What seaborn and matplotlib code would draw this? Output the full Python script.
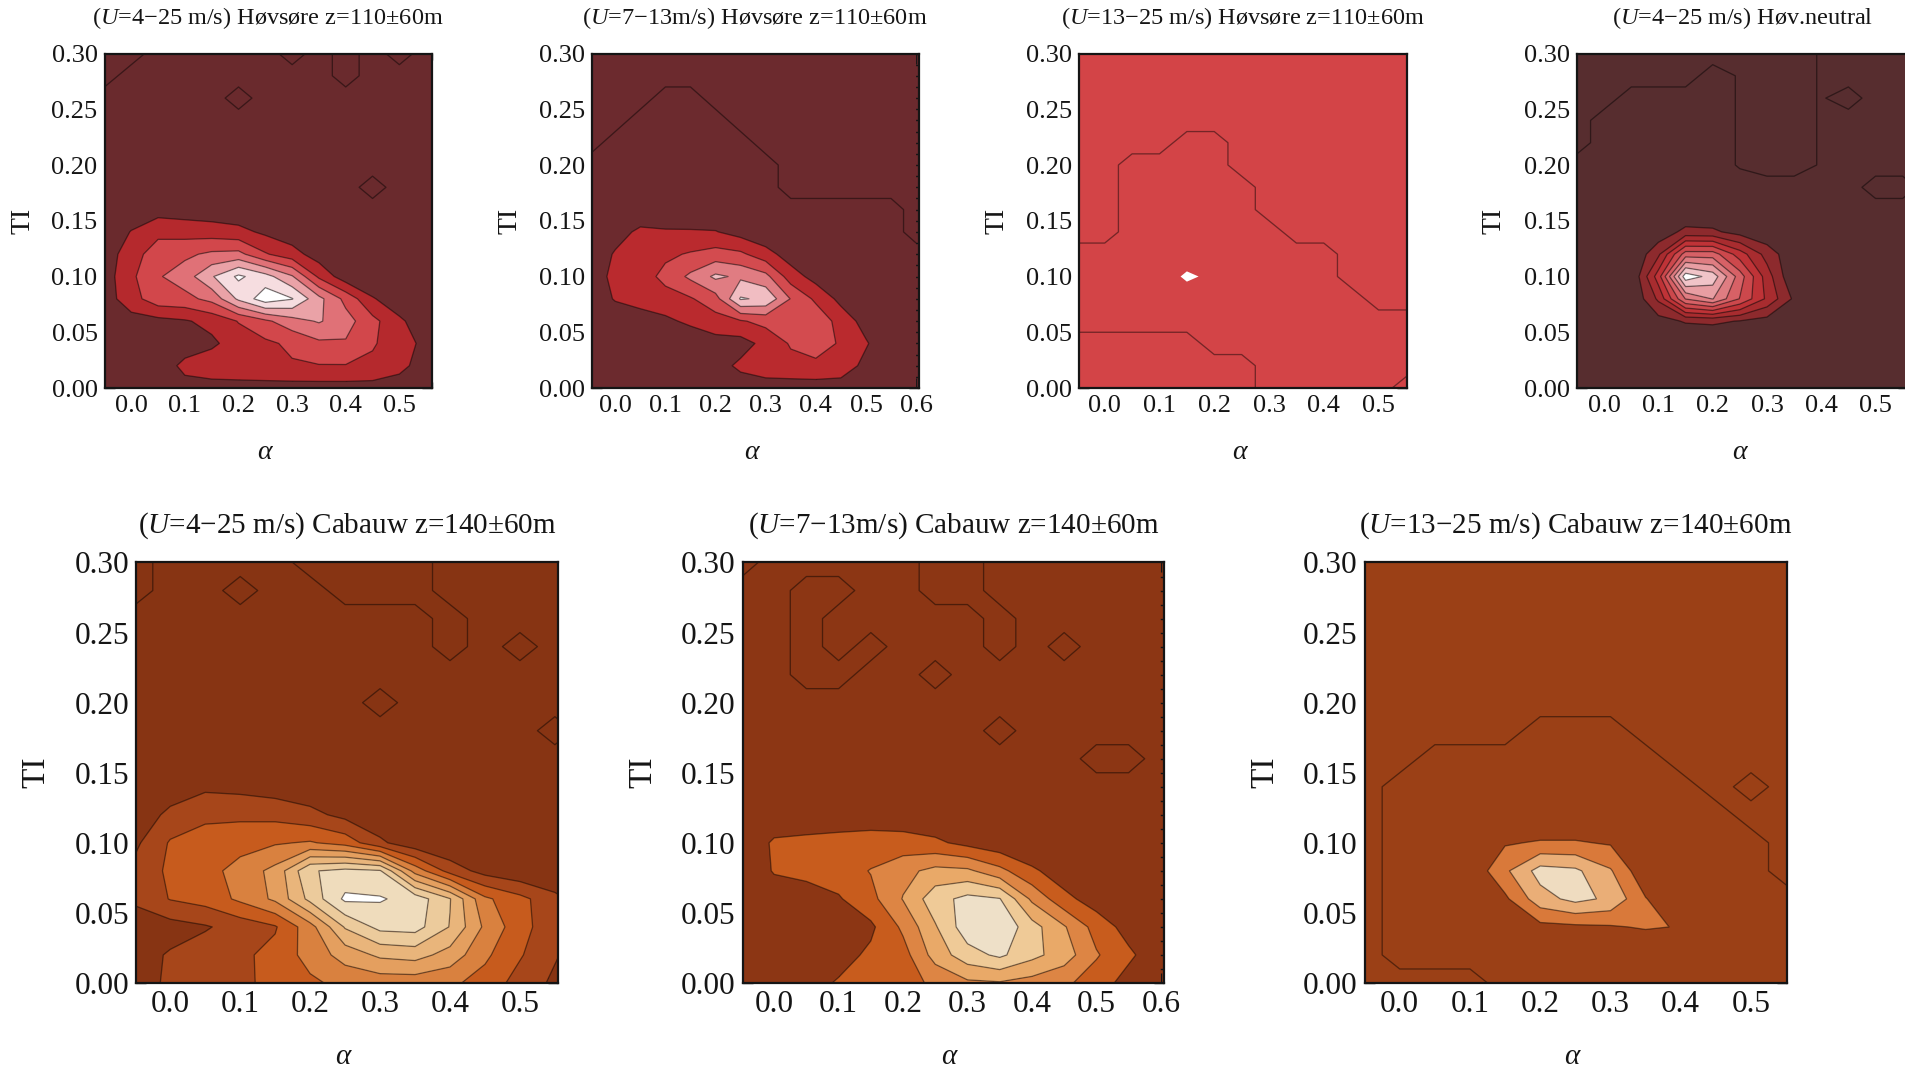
import numpy as np
import matplotlib
matplotlib.use("Agg")
import matplotlib.pyplot as plt
from matplotlib.ticker import MultipleLocator, FormatStrFormatter
import seaborn as sns

sns.set_theme(style="ticks")
plt.rcParams["font.family"] = ["Liberation Serif", "DejaVu Serif"]
plt.rcParams["mathtext.fontset"] = "custom"
plt.rcParams["mathtext.rm"] = "Liberation Serif"
plt.rcParams["mathtext.it"] = "Liberation Serif:italic"
plt.rcParams["contour.negative_linestyle"] = "solid"

# grid nodes (shear exponent alpha along x, turbulence intensity along y)
alpha_nodes = [-0.05, 0.00, 0.05, 0.10, 0.15, 0.20, 0.25, 0.30, 0.35, 0.40, 0.45, 0.50, 0.55, 0.60]
ti_nodes = [0.00, 0.02, 0.04, 0.06, 0.08, 0.10, 0.12, 0.14, 0.16, 0.18, 0.20, 0.22, 0.24, 0.26, 0.28, 0.30]

# frequency grids, rows listed from TI = 0.30 (top) down to TI = 0.00 (bottom)
hov_all = [
    [-1, -1, 0, 0, 0, 0, 0, -1, 0, -1, 0, -1, 0, 0],
    [-1, 0, 0, 0, 0, 0, 0, 0, 0, -1, 0, 0, 0, 0],
    [0, 0, 0, 0, 0, -1, 0, 0, 0, 0, 0, 0, 0, 0],
    [0, 0, 0, 0, 0, 0, 0, 0, 0, 0, 0, 0, 0, 0],
    [0, 0, 0, 0, 0, 0, 0, 0, 0, 0, 0, 0, 0, 0],
    [0, 0, 0, 0, 0, 0, 0, 0, 0, 0, 0, 0, 0, 0],
    [0, 0, 0, 0, 0, 0, 0, 0, 0, 0, -1, 0, 0, 0],
    [0, 0.3, 0.6, 0.5, 0.4, 0.3, 0.1, 0, 0, 0, 0, 0, 0, 0],
    [0.2, 1.05, 1.7, 1.6, 1.5, 1.3, 0.8, 0.4, 0.1, 0, 0, 0, 0, 0],
    [0.5, 1.5, 2.6, 2.8, 3.2, 3.3, 2.1, 1.4, 0.5, 0, 0, 0, 0, 0],
    [0.5, 1.8, 2.9, 3.5, 4.9, 6.2, 5.4, 4.1, 1.8, 0.4, 0, 0, 0, 0],
    [0.5, 1.6, 2.6, 2.7, 3.3, 5.2, 6.6, 6.05, 4.3, 2.7, 1.1, 0.3, 0, 0],
    [0.4, 0.6, 0.7, 0.9, 1.3, 2.05, 2.8, 3.6, 4.1, 3.4, 2.3, 1.2, 0.3, 0],
    [0, 0, 0.1, 0.4, 0.8, 1.5, 1.8, 2.2, 2.8, 2.9, 2.1, 1.5, 0.7, 0],
    [0, 0, 0.3, 1.3, 1.6, 1.7, 1.8, 1.9, 1.95, 1.95, 1.8, 1.3, 0.5, 0],
    [0, 0, 0, 0.6, 0.6, 0.6, 0.6, 0.6, 0.6, 0.6, 0.6, 0.5, 0.2, 0],
]

hov_mid = [
    [-1, -1, -1, -1, -1, -1, -1, -1, -1, -1, -1, -1, -1, -1],
    [-1, -1, -1, -1, -1, -1, -1, -1, -1, -1, -1, -1, -1, -1],
    [-1, -1, -1, 0, 0, -1, -1, -1, -1, -1, -1, -1, -1, -1],
    [-1, -1, 0, 0, 0, 0, -1, -1, -1, -1, -1, -1, -1, -1],
    [-1, 0, 0, 0, 0, 0, 0, -1, -1, -1, -1, -1, -1, -1],
    [0, 0, 0, 0, 0, 0, 0, 0, -1, -1, -1, -1, -1, -1],
    [0, 0, 0, 0, 0, 0, 0, 0, -1, -1, -1, -1, -1, -1],
    [0, 0.1, 0.3, 0.3, 0.2, 0.2, 0, 0, 0, 0, 0, 0, 0, -1],
    [0, 0.6, 1.2, 1.1, 1.1, 1.05, 0.6, 0.2, 0, 0, 0, 0, 0, -1],
    [0.3, 1.1, 1.6, 1.8, 2.1, 2.4, 2.2, 1.4, 0.5, 0, 0, 0, 0, 0],
    [0.4, 1.3, 1.5, 2.3, 3.2, 4.2, 3.8, 3.3, 1.5, 0.6, 0, 0, 0, 0],
    [0.2, 1.1, 1.4, 1.6, 1.9, 2.6, 5.1, 4.8, 2.95, 1.8, 0.7, 0, 0, 0],
    [0, 0.2, 0.5, 0.8, 1.2, 1.6, 1.9, 2.3, 2.8, 2.7, 1.6, 0.6, 0, 0],
    [0, 0, 0, 0.1, 0.3, 0.6, 0.6, 1.3, 2.1, 2.4, 1.9, 1.1, 0.2, 0],
    [0, 0, 0, 0, 0.2, 0.6, 1.2, 1.6, 1.7, 1.8, 1.6, 0.7, 0, 0],
    [0, 0, 0, 0, 0, 0.3, 0.5, 0.5, 0.5, 0.5, 0.5, 0.2, 0, 0],
]

hov_high = [
    [0, 0, 0, 0, 0, 0, 0, 0, 0, 0, 0, 0, 0, 0],
    [0, 0, 0, 0, 0, 0, 0, 0, 0, 0, 0, 0, 0, 0],
    [0, 0, 0, 0, 0, 0, 0, 0, 0, 0, 0, 0, 0, 0],
    [0, 0, 0, 0, 0, 0, 0, 0, 0, 0, 0, 0, 0, 0],
    [0, 0, 0, 0, 1, 1, 0, 0, 0, 0, 0, 0, 0, 0],
    [0, 0, 1, 1, 1, 1, 0, 0, 0, 0, 0, 0, 0, 0],
    [0, 0, 1, 1, 1, 1, 1, 0, 0, 0, 0, 0, 0, 0],
    [0, 0, 1, 1, 1, 1, 1, 0, 0, 0, 0, 0, 0, 0],
    [0, 0, 1, 1, 1, 1, 1, 1, 0, 0, 0, 0, 0, 0],
    [1, 1, 1, 1, 1, 1, 1, 1, 1, 1, 0, 0, 0, 0],
    [1, 1, 1, 1, 2.3, 1.6, 1, 1, 1, 1, 0, 0, 0, 0],
    [1, 1, 1, 1, 1, 1, 1, 1, 1, 1, 1, 0, 0, 0],
    [1, 1, 1, 1, 1, 1, 1, 1, 1, 1, 1, 1, 1, 1],
    [0, 0, 0, 0, 0, 1, 1, 1, 1, 1, 1, 1, 1, 1],
    [0, 0, 0, 0, 0, 0, 0, 1, 1, 1, 1, 1, 1, 1],
    [0, 0, 0, 0, 0, 0, 0, 1, 1, 1, 1, 1, 0, 0],
]

hov_neutral = [
    [-1, -1, -1, -1, -1, -1, -0.6, -1, -1, -0.4, 0, 0, 0, 0],
    [-1, -1, -1, -1, -1, 0, -0.6, -1, -1, -0.4, 0, 0, 0, 0],
    [-1, -1, 0, 0, 0, 0, -0.6, -1, -1, -0.4, -1, 0, 0, 0],
    [-1, 0, 0, 0, 0, 0, -0.6, -1, -1, -0.4, 0, 0, 0, 0],
    [-1, 0, 0, 0, 0, 0, -0.6, -1, -1, -0.4, 0, 0, 0, 0],
    [0, 0, 0, 0, 0, 0, -0.6, -1, -1, -0.4, 0, 0, 0, 0],
    [0, 0, 0, 0, 0, 0, 0, 0, 0, 0, 0, -1, -1, 0],
    [0, 0, 0, 0, 0, 0, 0, 0, 0, 0, 0, 0, 0, 0],
    [0, 0, 0, 0.3, 1.3, 1.2, 0.6, 0.2, 0, 0, 0, 0, 0, 0],
    [0, 0, 0, 1.8, 5.5, 5.5, 3.5, 1.6, 0.2, 0, 0, 0, 0, 0],
    [0, 0, 0, 3.5, 9.6, 8.6, 5.5, 2.5, 0, 0, 0, 0, 0, 0],
    [0, 0, 0, 2.2, 6.05, 7.05, 4.95, 2.8, 0.8, 0, 0, 0, 0, 0],
    [0, 0, 0, 0.6, 1.1, 1.2, 0.95, 0.6, 0, 0, 0, 0, 0, 0],
    [0, 0, 0, 0, 0, 0, 0, 0, 0, 0, 0, 0, 0, 0],
    [0, 0, 0, 0, 0, 0, 0, 0, 0, 0, 0, 0, 0, 0],
    [0, 0, 0, 0, 0, 0, 0, 0, 0, 0, 0, 0, 0, 0],
]

cab_all = [
    [-1, 0, 0, 0, 0, -1, -1, -1, -1, 0, 0, 0, 0, 0],
    [-1, 0, 0, -1, 0, 0, -1, -1, -1, 0, 0, 0, 0, 0],
    [0, 0, 0, 0, 0, 0, 0, 0, 0, -1, 0, 0, 0, 0],
    [0, 0, 0, 0, 0, 0, 0, 0, 0, -1, 0, -1, 0, 0],
    [0, 0, 0, 0, 0, 0, 0, 0, 0, 0, 0, 0, 0, 0],
    [0, 0, 0, 0, 0, 0, 0, -1, 0, 0, 0, 0, 0, 0],
    [0, 0, 0, 0, 0, 0, 0, 0, 0, 0, 0, 0, -1, 0],
    [0, 0, 0, 0, 0, 0, 0, 0, 0, 0, 0, 0, 0, 0],
    [0, 0.3, 0.8, 0.7, 0.5, 0.3, 0.1, 0, 0, 0, 0, 0, 0, 0],
    [0.2, 1.3, 1.8, 1.8, 1.7, 1.3, 0.7, 0.2, 0, 0, 0, 0, 0, 0],
    [0.8, 2.1, 2.4, 2.6, 2.9, 3.1, 2.6, 1.2, 0.3, 0, 0, 0, 0, 0],
    [1.3, 2.2, 2.6, 3.4, 4.3, 6.9, 7.3, 7.1, 3.6, 1.6, 0.6, 0.2, 0, 0],
    [1.2, 2.05, 2.4, 3.2, 4.2, 6.3, 8.2, 8.1, 7.6, 6.05, 3.2, 2.3, 1.3, 0.3],
    [0.4, 0.6, 0.9, 1.4, 1.9, 3.6, 6.1, 7.3, 7.4, 5.95, 3.8, 2.4, 1.3, 0.4],
    [0.6, 1.1, 1.5, 1.8, 2.3, 3.4, 4.4, 5.2, 5.4, 4.6, 3.2, 2.1, 1.1, 0.3],
    [0.5, 1.2, 1.5, 1.7, 2.4, 2.8, 3.3, 3.4, 3.4, 3.2, 2.6, 1.6, 0.8, 0],
]

cab_mid = [
    [-1, 0, 0, 0, 0, 0, -1, -1, 0, 0, 0, 0, 0, 0],
    [0, 0, -1, -1, 0, 0, -1, -1, 0, 0, 0, 0, 0, 0],
    [0, 0, -1, 0, 0, 0, 0, 0, -1, 0, 0, 0, 0, 0],
    [0, 0, -1, 0, -1, 0, 0, 0, -1, 0, -1, 0, 0, 0],
    [0, 0, -1, -1, 0, 0, -1, 0, 0, 0, 0, 0, 0, 0],
    [0, 0, 0, 0, 0, 0, 0, 0, 0, 0, 0, 0, 0, 0],
    [0, 0, 0, 0, 0, 0, 0, 0, -1, 0, 0, 0, 0, 0],
    [0, 0, 0, 0, 0, 0, 0, 0, 0, 0, 0, -1, -1, 0],
    [0, 0, 0, 0, 0, 0, 0, 0, 0, 0, 0, 0, 0, 0],
    [0, 0.3, 0.5, 0.5, 0.5, 0.4, 0.2, 0, 0, 0, 0, 0, 0, 0],
    [0.2, 1.15, 1.2, 1.3, 1.4, 1.4, 1.2, 0.7, 0.3, 0, 0, 0, 0, 0],
    [0, 1.1, 1.3, 1.5, 2.05, 2.7, 3.3, 3.2, 2.3, 1.2, 0.4, 0, 0, 0],
    [0.1, 0.3, 0.5, 0.9, 1.7, 3.05, 4.6, 5.3, 5.05, 2.8, 1.3, 0.5, 0, 0],
    [0, 0.1, 0.3, 0.5, 0.8, 2.2, 3.9, 5.6, 5.8, 4.4, 3.1, 1.6, 0.6, 0],
    [0, 0, 0.3, 0.6, 1.2, 1.6, 3.4, 4.6, 5.2, 4.3, 3.5, 2.1, 1.2, 0.3],
    [0, 0, 0.6, 1.1, 1.4, 1.6, 2.2, 2.8, 2.9, 2.6, 2.2, 1.5, 0.6, 0],
]

cab_high = [
    [0, 0, 0, 0, 0, 0, 0, 0, 0, 0, 0, 0, 0, 0],
    [0, 0, 0, 0, 0, 0, 0, 0, 0, 0, 0, 0, 0, 0],
    [0, 0, 0, 0, 0, 0, 0, 0, 0, 0, 0, 0, 0, 0],
    [0, 0, 0, 0, 0, 0, 0, 0, 0, 0, 0, 0, 0, 0],
    [0, 0, 0, 0, 0, 0, 0, 0, 0, 0, 0, 0, 0, 0],
    [0, 0, 0, 0, 0, 0, 0, 0, 0, 0, 0, 0, 0, 0],
    [0, 0, 0, 0, 0, 1, 1, 1, 0, 0, 0, 0, 0, 0],
    [0, 0, 1, 1, 1, 1, 1, 1, 1, 0, 0, 0, 0, 0],
    [0, 1, 1, 1, 1, 1, 1, 1, 1, 1, 0, 1, 0, 0],
    [0, 1, 1, 1, 1, 1, 1, 1, 1, 1, 1, 0, 0, 0],
    [0, 1, 1, 1, 1.9, 2.1, 2.1, 1.9, 1, 1, 1, 1, 0, 0],
    [0, 1, 1, 1.2, 2.8, 4.4, 4.2, 3.1, 1.2, 1, 1, 1, 0, 0],
    [0, 1, 1, 1, 1.8, 3.6, 4.3, 3.8, 2.05, 1, 1, 1, 1, 1],
    [0, 1, 1, 1, 1.4, 1.7, 1.8, 1.9, 2.1, 1.95, 1.3, 1, 1, 1],
    [0, 1, 1, 1, 1, 1, 1, 1, 1, 1, 1, 1, 1, 1],
    [0, 0, 0, 0, 1, 1, 1, 1, 1, 1, 1, 1, 1, 1],
]

titles = [
    "($U$=4\u221225 m/s) H\u00f8vs\u00f8re z=110\u00b160m",
    "($U$=7\u221213m/s) H\u00f8vs\u00f8re z=110\u00b160m",
    "($U$=13\u221225 m/s) H\u00f8vs\u00f8re z=110\u00b160m",
    "($U$=4\u221225 m/s) H\u00f8v.neutral",
    "($U$=4\u221225 m/s) Cabauw z=140\u00b160m",
    "($U$=7\u221213m/s) Cabauw z=140\u00b160m",
    "($U$=13\u221225 m/s) Cabauw z=140\u00b160m",
]

xticks_05 = [0.0, 0.1, 0.2, 0.3, 0.4, 0.5]
xticks_06 = [0.0, 0.1, 0.2, 0.3, 0.4, 0.5, 0.6]
yticks = [0.00, 0.05, 0.10, 0.15, 0.20, 0.25, 0.30]

top = dict(tick=19, title=17.5, ti=20, al=20, ty=1.106, lx=-0.25, ay=-0.192)
bot = dict(tick=22.5, title=21, ti=24, al=21, ty=1.087, lx=-0.236, ay=-0.176)

panels = [
    dict(z=hov_all, rect=[0.05486, 0.63873, 0.17165, 0.31145], xlim=(-0.05, 0.56), xt=xticks_05, st=top,
         levels=[1, 2, 3, 4, 5, 6], lines=[-0.5, 1, 2, 3, 4, 5, 6],
         colors=["#6a2a2d", "#b5292d", "#d2474b", "#e07177", "#eaa2a7", "#f6dde0", "#ffffff"]),
    dict(z=hov_mid, rect=[0.31060, 0.63873, 0.17160, 0.31145], xlim=(-0.047, 0.605), xt=xticks_06, st=top,
         levels=[1, 2, 3, 4, 5], lines=[-0.5, 1, 2, 3, 4, 5],
         colors=["#6c2a2e", "#ba2a2e", "#d34b4f", "#e07c82", "#f1bdc2", "#ffffff"]),
    dict(z=hov_high, rect=[0.56640, 0.63873, 0.17218, 0.31145], xlim=(-0.047, 0.552), xt=xticks_05, st=top,
         levels=[2], lines=[0.5],
         colors=["#d34447", "#ffffff"]),
    dict(z=hov_neutral, rect=[0.82782, 0.63873, 0.17380, 0.31145], xlim=(-0.05, 0.56), xt=xticks_05, st=top,
         levels=[1, 2, 3, 4, 5, 6, 7, 8, 9], lines=[-0.5, 1, 2, 3, 4, 5, 6, 7, 8, 9],
         colors=["#572d2f", "#8d2a2d", "#a82c2f", "#bf3337", "#cc484c", "#d76166", "#df7d82", "#e89ea3",
                 "#f1c4c8", "#ffffff"]),
    dict(z=cab_all, rect=[0.07139, 0.08473, 0.22136, 0.39153], xlim=(-0.049, 0.554), xt=xticks_05, st=bot,
         levels=[1, 2, 3, 4, 5, 6, 7, 8], lines=[-0.5, 1, 2, 3, 4, 5, 6, 7, 8],
         colors=["#873413", "#a7461a", "#c75b1d", "#d9813f", "#e49f5f", "#e9b57b", "#eccb9c", "#efdcbc",
                 "#ffffff"]),
    dict(z=cab_mid, rect=[0.38982, 0.08473, 0.22121, 0.39153], xlim=(-0.049, 0.605), xt=xticks_06, st=bot,
         levels=[1, 2, 3, 4, 5], lines=[-0.5, 1, 2, 3, 4, 5],
         colors=["#8c3614", "#c85c1d", "#dd8544", "#e9a968", "#efca97", "#eee0c8"]),
    dict(z=cab_high, rect=[0.71633, 0.08473, 0.22199, 0.39153], xlim=(-0.05, 0.552), xt=xticks_05, st=bot,
         levels=[2, 3, 4], lines=[0.5, 2, 3, 4],
         colors=["#9b4016", "#d9793a", "#eaae77", "#efdcc0"]),
]

fig = plt.figure(figsize=(19.05, 10.74), dpi=100)
X, Y = np.meshgrid(alpha_nodes, ti_nodes)

for title, p in zip(titles, panels):
    st = p["st"]
    ax = fig.add_axes(p["rect"])
    ax.set_facecolor(p["colors"][0])
    Z = np.array(p["z"], dtype=float)[::-1]
    ax.contourf(X, Y, Z, levels=[-50] + p["levels"] + [50], colors=p["colors"], antialiased=True)
    ax.contour(X, Y, Z, levels=p["lines"], colors="black", linewidths=0.95, alpha=0.45,
               linestyles="solid")

    ax.set_xlim(*p["xlim"])
    ax.set_ylim(0, 0.30)
    ax.set_xticks(p["xt"])
    ax.set_yticks(yticks)
    ax.xaxis.set_minor_locator(MultipleLocator(0.02))
    ax.yaxis.set_minor_locator(MultipleLocator(0.01))
    ax.xaxis.set_major_formatter(FormatStrFormatter("%.1f"))
    ax.yaxis.set_major_formatter(FormatStrFormatter("%.2f"))
    ax.tick_params(which="both", direction="in", top=True, right=True, color="#151515", width=1.0)
    ax.tick_params(which="major", length=7, labelsize=st["tick"], pad=5, labelcolor="#151515")
    ax.tick_params(which="minor", length=4)
    for sp in ax.spines.values():
        sp.set_linewidth(1.6)
        sp.set_color("#151515")

    ax.text(0.5, st["ty"], title, transform=ax.transAxes, ha="center", va="center",
            fontsize=st["title"], color="#151515")
    ax.text(st["lx"], 0.5, "TI", transform=ax.transAxes, ha="center", va="center",
            rotation=90, fontsize=st["ti"], color="#151515")
    ax.text(0.49, st["ay"], "\u03b1", transform=ax.transAxes, ha="center", va="center",
            fontsize=st["al"], fontstyle="italic", color="#151515")

fig.savefig("out.png", dpi=100, facecolor="white")
